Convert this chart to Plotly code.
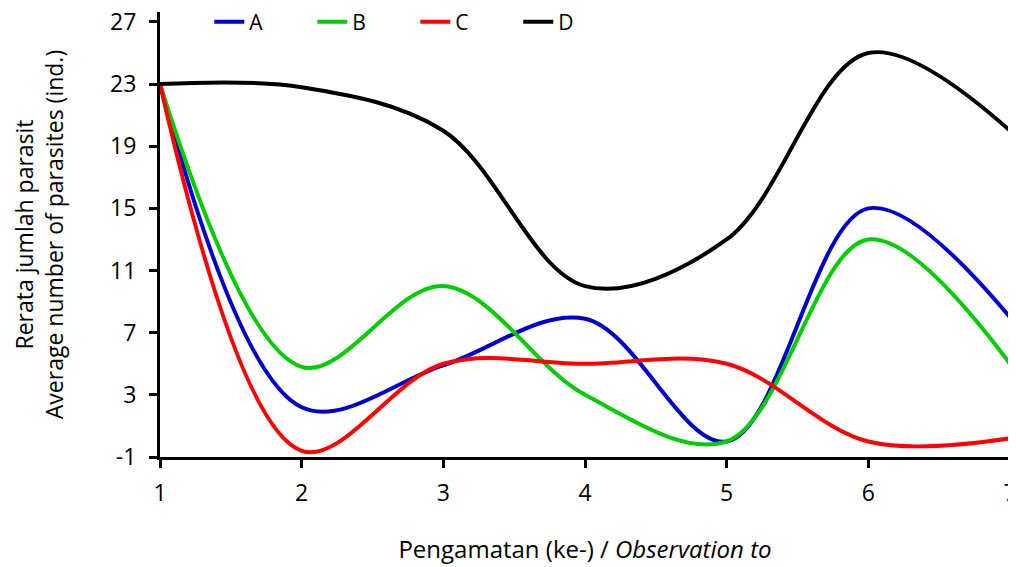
import plotly.graph_objects as go

x = [1, 2, 3, 4, 5, 6, 7]
series_names = ["A", "B", "C", "D"]
A = [23, 2.2, 4.9, 7.9, 0.0, 15.0, 8.0]
B = [23, 4.8, 10.0, 3.0, 0.0, 13.0, 5.0]
C = [23, -0.6, 5.0, 5.0, 5.0, 0.0, 0.2]
D = [23, 22.8, 20.0, 10.0, 13.0, 25.0, 20.0]
colors = ["#0000CC", "#00CC00", "#FF0000", "#000000"]
y_ticks = [-1, 3, 7, 11, 15, 19, 23, 27]
y_tick_text = [str(v) for v in y_ticks]

font_family = "Open Sans"
fig = go.Figure()
for name, vals, col in zip(series_names, [A, B, C, D], colors):
    fig.add_trace(go.Scatter(
        x=x, y=vals, name=name, mode="lines",
        line=dict(color=col, width=4, shape="spline", smoothing=1.0),
    ))

fig.update_layout(
    width=1008, height=559,
    margin=dict(l=152, r=6, t=4, b=110, autoexpand=False),
    paper_bgcolor="white", plot_bgcolor="white",
    font=dict(family=font_family, size=23, color="black"),
    showlegend=True,
    legend=dict(orientation="h", x=0.058, y=0.975, xanchor="left", yanchor="middle",
                yref="container",
                font=dict(size=21), entrywidth=58, entrywidthmode="pixels",
                bgcolor="rgba(0,0,0,0)", tracegroupgap=0),
    xaxis=dict(range=[1, 7], tickvals=x, showgrid=False, zeroline=False,
               showline=True, linecolor="black", linewidth=3,
               ticks="outside", ticklen=8, tickwidth=3, tickcolor="black",
               tickfont=dict(size=23), automargin=False, ticklabelstandoff=5,
               ticklabeloverflow="allow",
               title=dict(text="Pengamatan (ke-) / <i>Observation to</i>", font=dict(size=24), standoff=35)),
    yaxis=dict(range=[-1, 27.64], tickvals=y_ticks, ticktext=y_tick_text,
               showgrid=False, zeroline=False,
               showline=True, linecolor="black", linewidth=3,
               ticks="outside", ticklen=8, tickwidth=3, tickcolor="black",
               tickfont=dict(size=23), automargin=False, ticklabelstandoff=8,
               ticklabeloverflow="allow",
               title=dict(text="Rerata jumlah parasit<br>Average number of parasites (ind.)",
                          font=dict(size=23), standoff=42)),
)

fig.write_html("out.html")
